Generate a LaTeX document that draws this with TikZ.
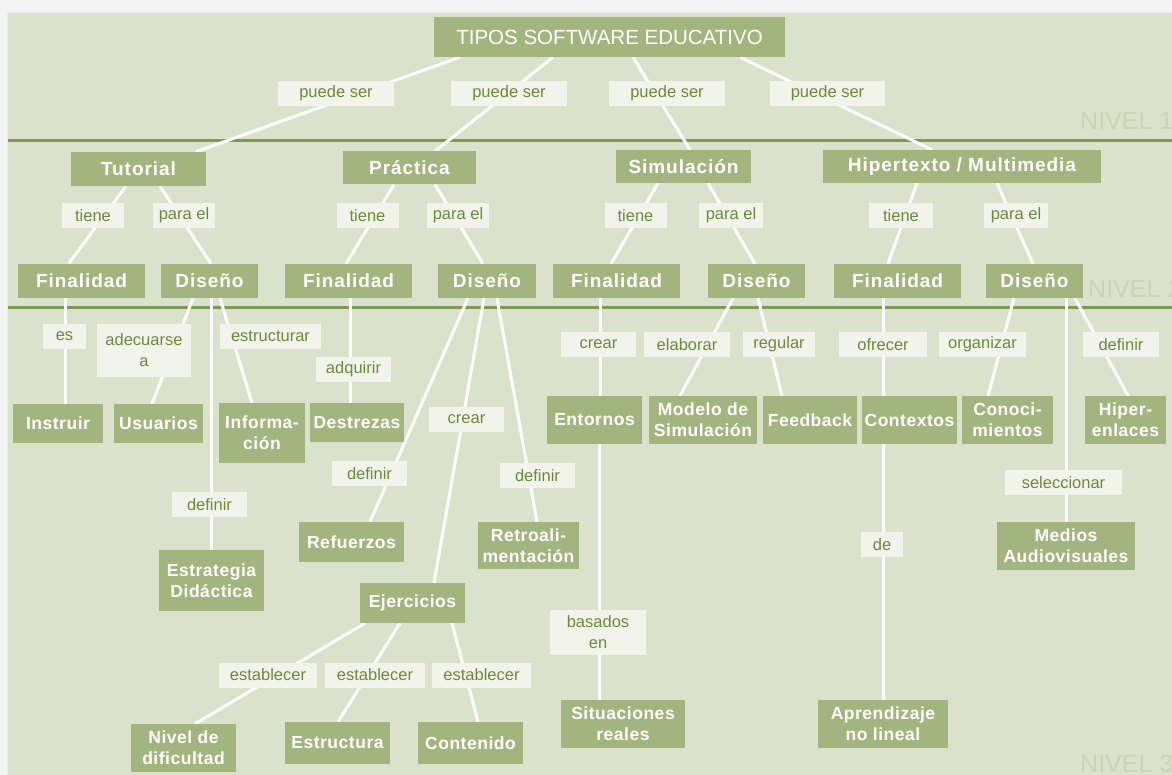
\documentclass[tikz,border=0pt]{standalone}
\usepackage{fontspec}
\setmainfont{Liberation Sans}
\newfontfamily\boxfont{Liberation Sans}[LetterSpace=5]
\newfontfamily\leaffont{Liberation Sans}[LetterSpace=3]
\definecolor{pagegray}{HTML}{F3F3F3}
\definecolor{panel}{HTML}{DAE2CB}
\definecolor{boxgreen}{HTML}{A3B57E}
\definecolor{labfill}{HTML}{F2F4EC}
\definecolor{labtext}{HTML}{6A8A3C}
\definecolor{rule}{HTML}{7C9A56}
\definecolor{niveltext}{HTML}{CBD4BA}
\pgfdeclarelayer{bg}
\pgfdeclarelayer{edges}
\pgfsetlayers{bg,edges,main}
\tikzset{
  box/.style={fill=boxgreen, text=white, inner sep=0pt, align=center,
    font=\boxfont\bfseries\fontsize{19}{22}\selectfont},
  leaf/.style={fill=boxgreen, text=white, inner sep=0pt, align=center,
    font=\leaffont\bfseries\fontsize{17.5}{21}\selectfont},
  lab/.style={fill=labfill, text=labtext, inner sep=0pt, align=center,
    minimum height=25pt, font=\fontsize{16.5}{21}\selectfont},
  edge/.style={draw=white, line width=3pt},
  nivel/.style={text=niveltext, inner sep=0pt, anchor=base west,
    font=\fontsize{25}{28}\selectfont},
}
\begin{document}
\begin{tikzpicture}[x=1pt, y=-1pt]
\useasboundingbox (0,0) rectangle (1172,775);

\begin{pgfonlayer}{bg}
  \fill[pagegray] (0,0) rectangle (1172,775);
  \fill[black!8] (7,12) rectangle (1172,775);
  \fill[panel] (8,13) rectangle (1172,775);
  \draw[rule, line width=3pt] (8,141) -- (1172,141);
  \draw[rule, line width=3pt] (8,308) -- (1172,308);
  \node[nivel] (n1) at (1080,130) {NIVEL 1};
  \node[nivel] (n2) at (1088,298) {NIVEL 2};
  \node[nivel] (n3) at (1080,772) {NIVEL 3};
\end{pgfonlayer}

% root
\node[box, minimum width=351pt, minimum height=40pt,
      font=\fontsize{20.5}{24}\selectfont] (top) at (609.5,37) {TIPOS SOFTWARE EDUCATIVO};

% first level
\node[box, minimum width=135pt, minimum height=34pt] (tut) at (138.5,169) {Tutorial};
\node[box, minimum width=133pt, minimum height=33pt] (pra) at (409.5,168) {Práctica};
\node[box, minimum width=135pt, minimum height=33pt] (sim) at (683.5,166.5) {Simulación};
\node[box, minimum width=278pt, minimum height=33pt] (hip) at (962,166.5) {Hipertexto / Multimedia};

% second level
\node[box, minimum width=127pt, minimum height=34pt] (finT) at (81.5,281) {Finalidad};
\node[box, minimum width=97pt,  minimum height=34pt] (disT) at (209.5,281) {Diseño};
\node[box, minimum width=127pt, minimum height=34pt] (finP) at (348.5,281) {Finalidad};
\node[box, minimum width=98pt,  minimum height=34pt] (disP) at (487,281) {Diseño};
\node[box, minimum width=127pt, minimum height=34pt] (finS) at (616.5,281) {Finalidad};
\node[box, minimum width=97pt,  minimum height=34pt] (disS) at (756.5,281) {Diseño};
\node[box, minimum width=127pt, minimum height=34pt] (finH) at (897.5,281) {Finalidad};
\node[box, minimum width=97pt,  minimum height=34pt] (disH) at (1034.5,281) {Diseño};

% third level
\node[leaf, minimum width=90pt,  minimum height=39pt] (ins) at (58,423.5) {Instruir};
\node[leaf, minimum width=89pt,  minimum height=39pt] (usu) at (158.5,423.5) {Usuarios};
\node[leaf, minimum width=86pt,  minimum height=60pt] (inf) at (262,433) {Informa-\\ción};
\node[leaf, minimum width=94pt,  minimum height=39pt] (des) at (357,422.5) {Destrezas};
\node[leaf, minimum width=95pt,  minimum height=48pt] (ent) at (594.5,420) {Entornos};
\node[leaf, minimum width=108pt, minimum height=48pt] (mod) at (703,420) {Modelo de\\Simulación};
\node[leaf, minimum width=94pt,  minimum height=48pt] (fee) at (810,420) {Feedback};
\node[leaf, minimum width=95pt,  minimum height=48pt] (con) at (909.5,420) {Contextos};
\node[leaf, minimum width=91pt,  minimum height=48pt] (cno) at (1007.5,420) {Conoci-\\mientos};
\node[leaf, minimum width=81pt,  minimum height=48pt] (hen) at (1125.5,420) {Hiper-\\enlaces};
\node[leaf, minimum width=105pt, minimum height=40pt] (ref) at (351.5,542) {Refuerzos};
\node[leaf, minimum width=101pt, minimum height=47pt] (ret) at (528.5,545.5) {Retroali-\\mentación};
\node[leaf, minimum width=105pt, minimum height=61pt] (estr) at (211.5,580.5) {Estrategia\\Didáctica};
\node[leaf, minimum width=105pt, minimum height=40pt] (eje) at (412.5,603) {Ejercicios};
\node[leaf, minimum width=138pt, minimum height=48pt] (med) at (1066,546) {Medios\\Audiovisuales};
\node[leaf, minimum width=105pt, minimum height=48pt] (niv) at (183.5,748) {Nivel de\\dificultad};
\node[leaf, minimum width=105pt, minimum height=42pt] (etu) at (337.5,743) {Estructura};
\node[leaf, minimum width=105pt, minimum height=42pt] (cont) at (470.5,743) {Contenido};
\node[leaf, minimum width=124pt, minimum height=48pt] (sit) at (623,724) {Situaciones\\reales};
\node[leaf, minimum width=130pt, minimum height=48pt] (apr) at (883,724) {Aprendizaje\\no lineal};

% connectors
\begin{pgfonlayer}{edges}
  \draw[edge] ([xshift=-149.5pt]top.south) -- ([xshift=57.5pt]tut.north);
  \draw[edge] ([xshift=-56.5pt]top.south) -- ([xshift=25.5pt]pra.north);
  \draw[edge] ([xshift=23.5pt]top.south) -- ([xshift=6.5pt]sim.north);
  \draw[edge] ([xshift=130.5pt]top.south) -- ([xshift=-30pt]hip.north);

  \draw[edge] ([xshift=-12.5pt]tut.south) -- ([xshift=-13pt]finT.north);
  \draw[edge] ([xshift=21.5pt]tut.south) -- ([xshift=1.5pt]disT.north);
  \draw[edge] ([xshift=-15.5pt]pra.south) -- ([xshift=-2.5pt]finP.north);
  \draw[edge] ([xshift=25.5pt]pra.south) -- ([xshift=-4pt]disP.north);
  \draw[edge] ([xshift=-25.5pt]sim.south) -- ([xshift=-5.5pt]finS.north);
  \draw[edge] ([xshift=24.5pt]sim.south) -- ([xshift=-1.5pt]disS.north);
  \draw[edge] ([xshift=-45pt]hip.south) -- ([xshift=-9.5pt]finH.north);
  \draw[edge] ([xshift=35pt]hip.south) -- ([xshift=-1.5pt]disH.north);

  \draw[edge] ([xshift=-16.5pt]finT.south) -- ([xshift=7pt]ins.north);
  \draw[edge] ([xshift=-16.5pt]disT.south) -- ([xshift=-6.5pt]usu.north);
  \draw[edge] ([xshift=1.5pt]disT.south) -- ([xshift=-0.5pt]estr.north);
  \draw[edge] ([xshift=10.5pt]disT.south) -- ([xshift=-10pt]inf.north);
  \draw[edge] ([xshift=1.5pt]finP.south) -- ([xshift=-7pt]des.north);
  \draw[edge] ([xshift=-19pt]disP.south) -- ([xshift=18.5pt]ref.north);
  \draw[edge] ([xshift=-3pt]disP.south) -- ([xshift=21.5pt]eje.north);
  \draw[edge] ([xshift=10pt]disP.south) -- ([xshift=8.5pt]ret.north);
  \draw[edge] ([xshift=-47.5pt]eje.south) -- ([xshift=11.5pt]niv.north);
  \draw[edge] ([xshift=-12.5pt]eje.south) -- ([xshift=0.5pt]etu.north);
  \draw[edge] ([xshift=39.5pt]eje.south) -- ([xshift=7.5pt]cont.north);
  \draw[edge] ([xshift=-16.5pt]finS.south) -- ([xshift=5.5pt]ent.north);
  \draw[edge] ([xshift=4.5pt]ent.south) -- ([xshift=-24pt]sit.north);
  \draw[edge] ([xshift=-23.5pt]disS.south) -- ([xshift=-23pt]mod.north);
  \draw[edge] ([xshift=1.5pt]disS.south) -- ([xshift=-28pt]fee.north);
  \draw[edge] ([xshift=-14.5pt]finH.south) -- ([xshift=-26.5pt]con.north);
  \draw[edge] ([xshift=-26.5pt]con.south) -- (apr.north);
  \draw[edge] ([xshift=-20.5pt]disH.south) -- ([xshift=-19.5pt]cno.north);
  \draw[edge] ([xshift=31.5pt]disH.south) -- (med.north);
  \draw[edge] ([xshift=40.5pt]disH.south) -- ([xshift=2.5pt]hen.north);
\end{pgfonlayer}

% connector labels
\node[lab, minimum width=116pt] (ps1) at (336,93.5) {puede ser};
\node[lab, minimum width=116pt] (ps2) at (509,93.5) {puede ser};
\node[lab, minimum width=116pt] (ps3) at (667,93.5) {puede ser};
\node[lab, minimum width=115pt] (ps4) at (827.5,93.5) {puede ser};

\node[lab, minimum width=62pt] (tT) at (93,215.5) {tiene};
\node[lab, minimum width=62pt] (pT) at (184,215.5) {para el};
\node[lab, minimum width=62pt] (tP) at (367.5,215.5) {tiene};
\node[lab, minimum width=62pt] (pP) at (458,215.5) {para el};
\node[lab, minimum width=62pt] (tS) at (635.5,215.5) {tiene};
\node[lab, minimum width=64pt] (pS) at (731,215.5) {para el};
\node[lab, minimum width=64pt] (tH) at (901,215.5) {tiene};
\node[lab, minimum width=64pt] (pH) at (1016,215.5) {para el};

\node[lab, minimum width=43pt] (les) at (64.5,336.5) {es};
\node[lab, minimum width=94pt, minimum height=53pt] (lade) at (144,350.5) {adecuarse\\a};
\node[lab, minimum width=101pt] (lestr) at (270.5,336.5) {estructurar};
\node[lab, minimum width=75pt] (ladq) at (353.5,369.5) {adquirir};
\node[lab, minimum width=75pt] (lcrP) at (466.5,419.5) {crear};
\node[lab, minimum width=75pt] (ldefR) at (369.5,473.5) {definir};
\node[lab, minimum width=75pt] (ldefT) at (537.5,475.5) {definir};
\node[lab, minimum width=75pt] (ldefE) at (209.5,504.5) {definir};
\node[lab, minimum width=75pt] (lcrS) at (598.5,344.5) {crear};
\node[lab, minimum width=86pt] (lela) at (687,344.5) {elaborar};
\node[lab, minimum width=72pt] (lreg) at (779,344.5) {regular};
\node[lab, minimum width=88pt] (lofr) at (883,344.5) {ofrecer};
\node[lab, minimum width=87pt] (lorg) at (982.5,344.5) {organizar};
\node[lab, minimum width=76pt] (ldefH) at (1121,344.5) {definir};
\node[lab, minimum width=117pt] (lsel) at (1063.5,482.5) {seleccionar};
\node[lab, minimum width=42pt] (lde) at (882,544.5) {de};
\node[lab, minimum width=96pt, minimum height=45pt] (lbas) at (598,632.5) {basados\\en};
\node[lab, minimum width=98pt] (les1) at (268,675) {establecer};
\node[lab, minimum width=100pt] (les2) at (375,675) {establecer};
\node[lab, minimum width=99pt] (les3) at (481.5,675) {establecer};
\end{tikzpicture}
\end{document}
